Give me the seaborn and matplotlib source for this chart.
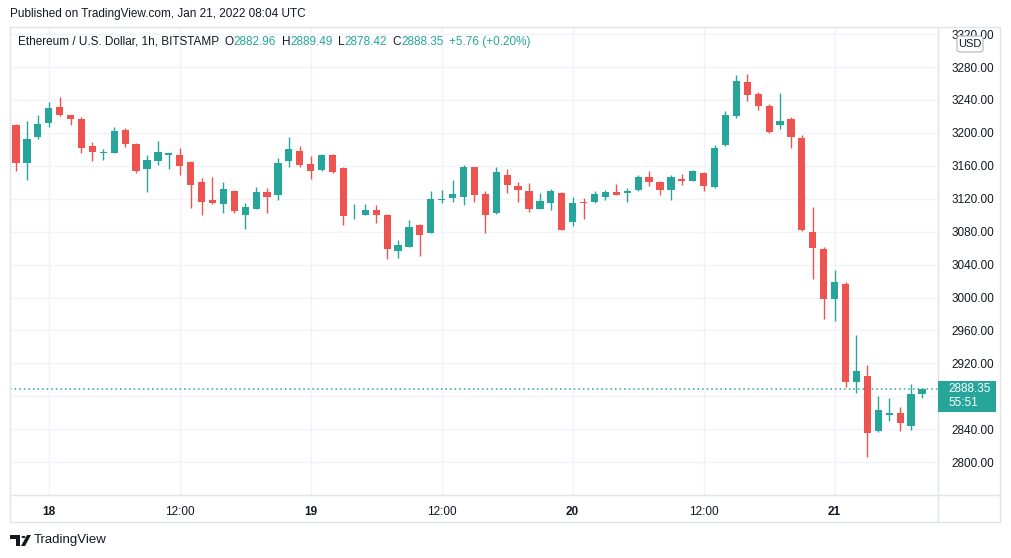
import numpy as np
import pandas as pd
import seaborn as sns
import matplotlib.pyplot as plt
from matplotlib.patches import Rectangle, FancyBboxPatch, Polygon, Circle

# ETH/USD 1h candles, Jan 17 21:00 -> Jan 21 08:00 (Bitstamp)
opens = [3210, 3163, 3195, 3212, 3231, 3222, 3217, 3184, 3175, 3176, 3203, 3186,
         3156, 3166, 3173, 3173, 3165, 3140, 3118, 3114, 3130, 3100, 3108, 3128,
         3124, 3166, 3178, 3162, 3155, 3173, 3157, 3101, 3100, 3106, 3100, 3057,
         3062, 3088, 3079, 3118, 3121, 3122, 3158, 3126, 3103, 3149, 3135, 3129,
         3108, 3115, 3127, 3092, 3116, 3116, 3122, 3128, 3127, 3131, 3147, 3140,
         3131, 3144, 3142, 3151, 3134, 3185, 3220, 3262, 3247, 3233, 3209, 3217,
         3194, 3080, 3059, 2998, 3016, 2898, 2905, 2838, 2857, 2860, 2844, 2882.96]
highs = [3211, 3215, 3222, 3237, 3244, 3222, 3219, 3189, 3181, 3207, 3206, 3188,
         3173, 3190, 3176, 3182, 3166, 3145, 3146, 3140, 3131, 3115, 3134, 3133,
         3169, 3195, 3184, 3172, 3174, 3174, 3158, 3114, 3114, 3112, 3101, 3070,
         3094, 3089, 3129, 3131, 3143, 3161, 3159, 3130, 3159, 3156, 3140, 3139,
         3127, 3132, 3128, 3122, 3121, 3130, 3131, 3138, 3133, 3149, 3154, 3142,
         3149, 3150, 3155, 3152, 3185, 3226, 3270, 3272, 3250, 3235, 3248, 3219,
         3197, 3110, 3061, 3033, 3019, 2955, 2918, 2881, 2878, 2867, 2895, 2889.49]
lows = [3154, 3143, 3193, 3207, 3220, 3210, 3176, 3166, 3167, 3176, 3183, 3151,
        3128, 3161, 3156, 3149, 3109, 3100, 3114, 3103, 3103, 3083, 3107, 3103,
        3119, 3158, 3159, 3144, 3154, 3151, 3088, 3096, 3100, 3091, 3047, 3048,
        3061, 3050, 3078, 3115, 3116, 3113, 3116, 3078, 3102, 3127, 3116, 3104,
        3107, 3106, 3082, 3087, 3095, 3115, 3119, 3124, 3116, 3130, 3135, 3124,
        3118, 3137, 3141, 3130, 3133, 3184, 3218, 3239, 3228, 3200, 3205, 3182,
        3081, 3022, 2974, 2972, 2891, 2884, 2806, 2837, 2850, 2838, 2839, 2878.42]
closes = [3164, 3192, 3211, 3230, 3222, 3217, 3182, 3177, 3177, 3202, 3186, 3154,
          3167, 3177, 3175, 3160, 3137, 3116, 3115, 3132, 3105, 3110, 3128, 3122,
          3163, 3180, 3161, 3154, 3173, 3152, 3099, 3102, 3106, 3100, 3059, 3064,
          3086, 3076, 3120, 3120, 3126, 3158, 3125, 3100, 3152, 3137, 3131, 3108,
          3117, 3129, 3082, 3115, 3115, 3126, 3128, 3125, 3130, 3147, 3140, 3131,
          3147, 3142, 3154, 3135, 3182, 3222, 3263, 3246, 3233, 3201, 3215, 3195,
          3082, 3060, 2998, 3019, 2898, 2911, 2836, 2863, 2860, 2848, 2883, 2888.35]

price_ticks = list(range(2800, 3321, 40))
hidden_tick = 2880  # covered by the last-price tag
time_tick_pos = [3, 15, 27, 39, 51, 63, 75]
time_tick_labels = ["18", "12:00", "19", "12:00", "20", "12:00", "21"]
last_price = 2888.35
change_text = "+5.76 (+0.20%)"
countdown = "55:51"

UP = "#26a69a"
DOWN = "#ef5350"
TXT = "#131722"
GRID = "#f0f3fa"
BORDER = "#e0e3eb"

df = pd.DataFrame({"time": pd.date_range("2022-01-17 21:00", periods=len(opens), freq="h"),
                   "open": opens, "high": highs, "low": lows, "close": closes})
df["x"] = np.arange(len(df))
df["color"] = np.where(df["close"] >= df["open"], UP, DOWN)
df["body_lo"] = df[["open", "close"]].min(axis=1)
df["body_h"] = (df["close"] - df["open"]).abs().clip(lower=1.0)

sns.set_style("white")
plt.rcParams["font.family"] = ["Liberation Sans", "DejaVu Sans"]

W, H = 1012, 558
fig = plt.figure(figsize=(W / 100, H / 100), dpi=100)


def fx(px):
    return px / W


def fy(py):
    return 1 - py / H


# main plot area: x 10..938, y 27..495 px
ax = fig.add_axes([fx(10), fy(495), fx(938) - fx(10), fy(27) - fy(495)])
ax.set_xlim(-0.55, 84.47)
ax.set_ylim(2760.2, 3328.6)

for p in price_ticks:
    ax.axhline(p, color=GRID, lw=1, zorder=0)
for t in time_tick_pos:
    ax.axvline(t, color=GRID, lw=1, zorder=0)

ax.vlines(df["x"], df["low"], df["high"], colors=df["color"], lw=1, zorder=2)
ax.bar(df["x"], df["body_h"], bottom=df["body_lo"], width=0.66,
       color=df["color"], linewidth=0, zorder=3)

ax.axhline(last_price, color=UP, lw=1.1, ls=(0, (1, 2)), zorder=1)

for s in ax.spines.values():
    s.set_visible(False)

ax.yaxis.tick_right()
ax.set_yticks(price_ticks)
ax.set_yticklabels(["" if p == hidden_tick else f"{p:.2f}" for p in price_ticks],
                   fontsize=8.5, color=TXT)
ax.tick_params(axis="y", length=0, pad=10)
ax.set_xticks(time_tick_pos)
ax.set_xticklabels(time_tick_labels, fontsize=8.5, color=TXT)
ax.tick_params(axis="x", length=0, pad=8)
for lab in ax.get_xticklabels():
    if ":" not in lab.get_text():
        lab.set_fontweight("bold")

# last price tag
fig.patches.append(Rectangle((fx(938), fy(412)), fx(996) - fx(938), fy(381) - fy(412),
                             transform=fig.transFigure, fc=UP, ec="none", zorder=5))
fig.text(fx(948), fy(389.5), f"{last_price:.2f}", fontsize=8.5, color="white",
         ha="left", va="center", zorder=6)
fig.text(fx(948), fy(403), countdown, fontsize=8.5, color="white",
         ha="left", va="center", zorder=6)

# frame and separators
fig.patches.append(Rectangle((fx(10), fy(522)), fx(1000) - fx(10), fy(27) - fy(522),
                             transform=fig.transFigure, fill=False, ec=BORDER, lw=1))
fig.lines.append(plt.Line2D([fx(938), fx(938)], [fy(522), fy(27)], color=BORDER, lw=1,
                            transform=fig.transFigure))
fig.lines.append(plt.Line2D([fx(10), fx(1000)], [fy(495), fy(495)], color=BORDER, lw=1,
                            transform=fig.transFigure))

# USD badge
fig.patches.append(FancyBboxPatch((fx(957), fy(52)), fx(26), fy(36) - fy(52),
                                  boxstyle="round,pad=0,rounding_size=0.004",
                                  transform=fig.transFigure, fc="white", ec="#b2b5be", lw=0.8,
                                  zorder=6))
fig.text(fx(970), fy(44), "USD", fontsize=8, color=TXT, ha="center", va="center", zorder=7)

# header
fig.text(fx(10), fy(14), "Published on TradingView.com, Jan 21, 2022 08:04 UTC",
         fontsize=8.5, color=TXT, ha="left", va="center")

# legend line with OHLC values, each piece chained after the previous one
prev = fig.text(fx(18), fy(42), "Ethereum / U.S. Dollar, 1h, BITSTAMP", fontsize=8.5,
                color=TXT, ha="left", va="center")
pieces = [("O", TXT, 4), (f"{opens[-1]:.2f}", UP, 0), ("H", TXT, 4), (f"{highs[-1]:.2f}", UP, 0),
          ("L", TXT, 4), (f"{lows[-1]:.2f}", UP, 0), ("C", TXT, 4), (f"{closes[-1]:.2f}", UP, 0),
          (change_text, UP, 4)]
for s, c, gap in pieces:
    prev = ax.annotate(s, xy=(1, 0), xycoords=prev, xytext=(gap, 0), textcoords="offset points",
                       fontsize=8.5, color=c, ha="left", va="bottom", annotation_clip=False)

# footer logo
fig.patches.append(Polygon([(fx(10), fy(535)), (fx(20), fy(535)), (fx(20), fy(546)),
                            (fx(16), fy(546)), (fx(16), fy(539)), (fx(10), fy(539))],
                           closed=True, transform=fig.transFigure, fc=TXT, ec="none"))
fig.patches.append(Circle((fx(23.5), fy(537)), 2 / W, transform=fig.transFigure, fc=TXT, ec="none"))
fig.patches.append(Polygon([(fx(27), fy(535)), (fx(31), fy(535)), (fx(25), fy(546)), (fx(21), fy(546))],
                           closed=True, transform=fig.transFigure, fc=TXT, ec="none"))
fig.text(fx(34), fy(540), "TradingView", fontsize=9.5, color=TXT, ha="left", va="center")

fig.savefig("out.png", dpi=100, facecolor="white")
